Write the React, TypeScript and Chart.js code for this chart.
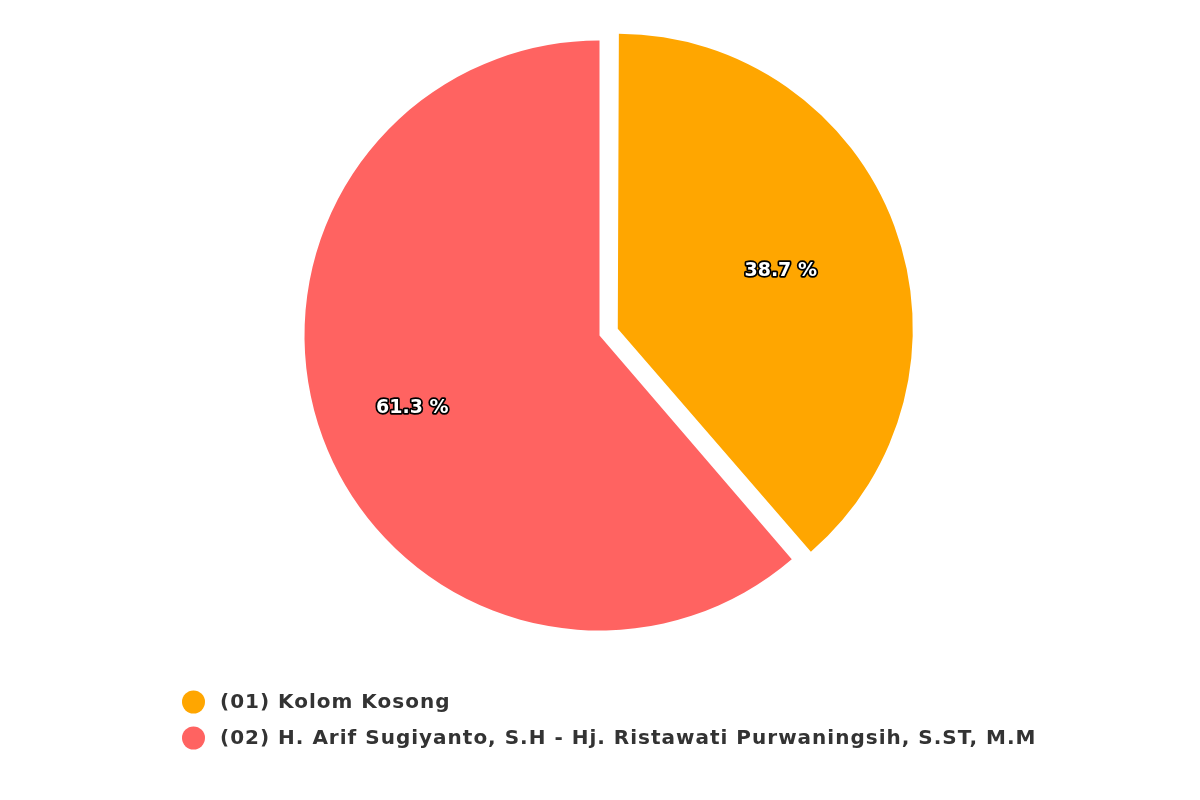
import React, { useEffect, useRef } from "react";
import { Chart, registerables } from "chart.js";

Chart.register(...registerables);

const categories = [
  "(01) Kolom Kosong",
  "(02) H. Arif Sugiyanto, S.H - Hj. Ristawati Purwaningsih, S.ST, M.M",
];
const percentages = [38.7, 61.3];
const colors = ["#ffa600", "#ff6361"];
const sliceOffsets = [78, 0];

const LABEL_RADIUS_FRACTION = [0.589, 0.677];

// Chart.js enlarges an offset arc by (offset/4)*(1 - sin(min(PI, circumference)));
// compensate so the exploded slice keeps the same radius as the others.
const equalRadiusPlugin = {
  id: "equalRadius",
  beforeDatasetsDraw(chart: any) {
    const meta = chart.getDatasetMeta(0);
    const R = meta.controller.outerRadius;
    meta.data.forEach((arc: any) => {
      const off = (arc.options.offset || 0) / 4;
      const circ = arc.endAngle - arc.startAngle;
      const fix = 1 - Math.sin(Math.min(Math.PI, circ || 0));
      arc.outerRadius = R - off * fix;
    });
  },
};

const pieLabelsPlugin = {
  id: "pieLabels",
  afterDatasetsDraw(chart: any) {
    const ctx = chart.ctx;
    const meta = chart.getDatasetMeta(0);
    const R = meta.controller.outerRadius;
    const data = chart.data.datasets[0].data as number[];
    ctx.save();
    ctx.font = "bold 19px 'DejaVu Sans'";
    ctx.textAlign = "center";
    ctx.textBaseline = "middle";
    ctx.lineJoin = "round";
    meta.data.forEach((arc: any, i: number) => {
      const { x, y, startAngle, endAngle } = arc;
      const mid = (startAngle + endAngle) / 2;
      const shift = (arc.options.offset || 0) / 4;
      const r = R * LABEL_RADIUS_FRACTION[i] + shift;
      const lx = x + Math.cos(mid) * r;
      const ly = y + Math.sin(mid) * r + 3;
      const text = `${data[i].toFixed(1)} %`;
      ctx.lineWidth = 3.5;
      ctx.strokeStyle = "#000000";
      ctx.strokeText(text, lx, ly);
      ctx.fillStyle = "#ffffff";
      ctx.fillText(text, lx, ly);
    });
    ctx.restore();
  },
};

const customLegendPlugin = {
  id: "customLegend",
  afterDraw(chart: any) {
    const ctx = chart.ctx;
    const labels = chart.data.labels as string[];
    const bg = chart.data.datasets[0].backgroundColor as string[];
    ctx.save();
    ctx.font = "bold 20px 'DejaVu Sans'";
    (ctx as any).letterSpacing = "1px";
    ctx.textAlign = "left";
    ctx.textBaseline = "middle";
    labels.forEach((label, i) => {
      const cy = 702 + i * 36;
      ctx.beginPath();
      ctx.arc(193.5, cy, 11.5, 0, Math.PI * 2);
      ctx.fillStyle = bg[i];
      ctx.fill();
      ctx.fillStyle = "#333333";
      ctx.fillText(label, 220, cy + 1);
    });
    ctx.restore();
  },
};

export default function App() {
  const canvasRef = useRef<HTMLCanvasElement | null>(null);

  useEffect(() => {
    if (!canvasRef.current) return;
    const chart = new Chart(canvasRef.current, {
      type: "pie",
      data: {
        labels: categories,
        datasets: [
          {
            data: percentages,
            backgroundColor: colors,
            borderWidth: 0,
            offset: sliceOffsets,
          },
        ],
      },
      options: {
        animation: false,
        responsive: false,
        radius: 295,
        layout: { padding: { top: 0, bottom: 129, left: 0, right: 1 } },
        plugins: {
          legend: { display: false },
          tooltip: { enabled: false },
        },
      } as any,
      plugins: [equalRadiusPlugin, pieLabelsPlugin, customLegendPlugin],
    });
    return () => chart.destroy();
  }, []);

  return (
    <div style={{ position: "absolute", left: 0, top: 0, width: 1200, height: 800, background: "#ffffff" }}>
      <canvas ref={canvasRef} width={1200} height={800} style={{ width: 1200, height: 800 }} />
    </div>
  );
}
